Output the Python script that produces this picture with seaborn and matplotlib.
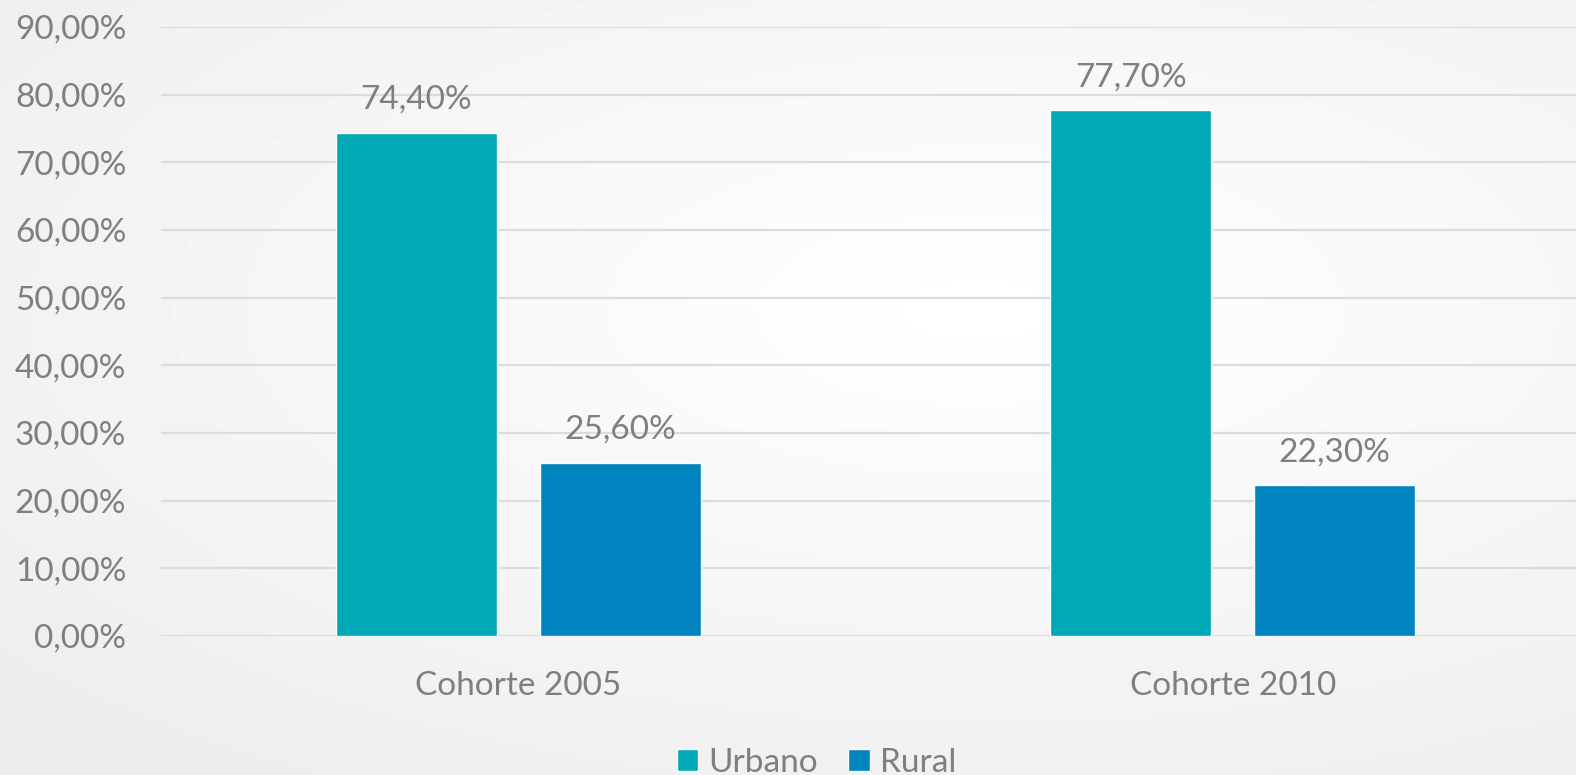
import numpy as np
import pandas as pd
import matplotlib
matplotlib.use("Agg")
import matplotlib.pyplot as plt
import seaborn as sns
from matplotlib.patches import Patch

# data
cohortes = ["Cohorte 2005", "Cohorte 2010"]
zonas = ["Urbano", "Rural"]
urbano = [74.4, 77.7]
rural = [25.6, 22.3]
y_ticks = [0, 10, 20, 30, 40, 50, 60, 70, 80, 90]

colores = {"Urbano": "#00A9B5", "Rural": "#0084BF"}
GRIS = "#7f7f7f"
FS = 24

df = pd.DataFrame({
    "cohorte": cohortes * 2,
    "zona": [zonas[0]] * len(cohortes) + [zonas[1]] * len(cohortes),
    "valor": urbano + rural,
})


def pct(v):
    return f"{v:.2f}%".replace(".", ",")


sns.set_style("white")
plt.rcParams["font.family"] = ["Lato", "DejaVu Sans"]

fig = plt.figure(figsize=(15.76, 7.75), dpi=100)

# soft radial background like the office chart style
bg = fig.add_axes([0, 0, 1, 1], zorder=-10)
yy, xx = np.mgrid[0:1:200j, 0:1:400j]
r = np.sqrt(((xx - 0.62) / 0.95) ** 2 + ((yy - 0.6) / 0.85) ** 2)
bg.imshow(1.0 - 0.08 * np.clip(r, 0, 1), cmap="gray", vmin=0, vmax=1,
          aspect="auto", extent=(0, 1, 0, 1), origin="lower")
bg.axis("off")

ax = fig.add_axes([161 / 1576, 1 - 636 / 775, 1429 / 1576, 609 / 775])
ax.patch.set_alpha(0)

sns.barplot(data=df, x="cohorte", y="valor", hue="zona", order=cohortes,
            hue_order=zonas, palette=colores, width=0.57, gap=0.21,
            saturation=1, ax=ax, legend=False, zorder=3)

for cont, serie in zip(ax.containers, [urbano, rural]):
    ax.bar_label(cont, labels=[pct(v) for v in serie], padding=13,
                 fontsize=FS, color=GRIS)

ax.set_xlim(-0.5, 1.5)
ax.set_ylim(0, 90)
ax.set_yticks(y_ticks)
ax.set_yticklabels([pct(v) for v in y_ticks])
ax.grid(axis="y", color="#dcdcdc", linewidth=1.6, zorder=0)
ax.set_axisbelow(True)
ax.tick_params(axis="y", length=0, pad=25, labelsize=FS, labelcolor=GRIS)
ax.tick_params(axis="x", length=0, pad=25, labelsize=FS, labelcolor=GRIS)
ax.set_xlabel("")
ax.set_ylabel("")
sns.despine(ax=ax, left=True, bottom=True, top=True, right=True)

handles = [Patch(facecolor=colores[z], label=z) for z in zonas]
fig.legend(handles=handles, loc="center", bbox_to_anchor=(0.518, 0.016),
           ncol=2, frameon=False, fontsize=FS, labelcolor=GRIS,
           handlelength=0.65, handleheight=0.65, handletextpad=0.3,
           columnspacing=0.9)

fig.savefig("out.png", dpi=100)
